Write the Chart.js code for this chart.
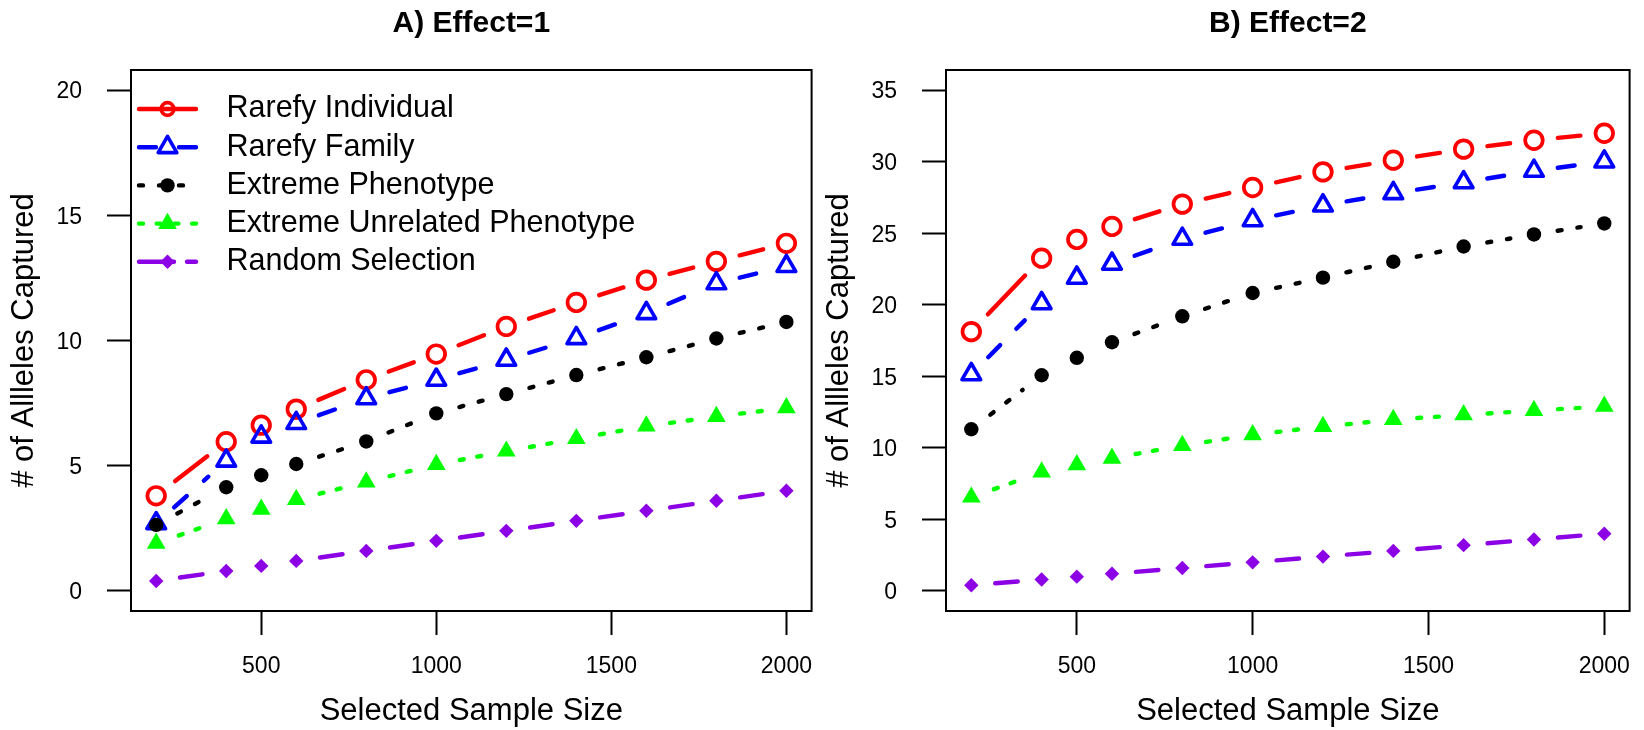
<!DOCTYPE html>
<html>
<head>
<meta charset="utf-8">
<script src="https://cdn.jsdelivr.net/npm/chart.js@4/dist/chart.umd.min.js"></script>
<style>
  body { margin: 0; background: #fff; width: 1644px; height: 730px; position: relative; overflow: hidden; }
  .panel { position: absolute; top: 0; }
</style>
</head>
<body>
<div class="panel" style="left:0"><canvas id="chartA" width="826" height="730"></canvas></div>
<div class="panel" style="left:815px"><canvas id="chartB" width="829" height="730"></canvas></div>
<script>
// sample sizes on the x axis
const sampleSizes = [200, 400, 500, 600, 800, 1000, 1200, 1400, 1600, 1800, 2000];

// A) Effect=1
const e1Individual = [3.80, 5.96, 6.62, 7.26, 8.43, 9.46, 10.56, 11.52, 12.41, 13.16, 13.88];
const e1Family     = [2.70, 5.20, 6.16, 6.70, 7.69, 8.43, 9.23, 10.09, 11.09, 12.28, 12.97];
const e1Extreme    = [2.64, 4.14, 4.62, 5.07, 5.97, 7.09, 7.86, 8.62, 9.33, 10.08, 10.74];
const e1Unrelated  = [1.90, 2.88, 3.26, 3.65, 4.35, 5.05, 5.58, 6.08, 6.58, 6.96, 7.31];
const e1Random     = [0.4, 0.8, 1.0, 1.2, 1.6, 2.0, 2.4, 2.8, 3.2, 3.6, 4.0];

// B) Effect=2
const e2Individual = [18.12, 23.25, 24.56, 25.47, 27.03, 28.19, 29.28, 30.10, 30.87, 31.49, 31.98];
const e2Family     = [15.14, 20.10, 21.88, 22.86, 24.60, 25.90, 26.93, 27.79, 28.55, 29.35, 30.00];
const e2Extreme    = [11.30, 15.07, 16.29, 17.38, 19.19, 20.82, 21.89, 23.00, 24.07, 24.91, 25.68];
const e2Unrelated  = [6.55, 8.30, 8.81, 9.27, 10.16, 10.91, 11.48, 11.97, 12.30, 12.60, 12.90];
const e2Random     = [0.4, 0.8, 1.0, 1.2, 1.6, 2.0, 2.4, 2.8, 3.2, 3.6, 4.0];

const seriesNames = ["Rarefy Individual", "Rarefy Family", "Extreme Phenotype",
                     "Extreme Unrelated Phenotype", "Random Selection"];

const xTicks  = [500, 1000, 1500, 2000];
const yTicksA = [0, 5, 10, 15, 20];
const yTicksB = [0, 5, 10, 15, 20, 25, 30, 35];

const FONT = "'Liberation Sans', Arial, sans-serif";

// look of each series (R style: type="b")
const styles = [
  { color: "#FF0000", dash: [],        style: "circle",   radius: 8.8,  border: 3.7, filled: false, legendRadius: 6.3 },
  { color: "#0000FF", dash: [17, 23],  style: "triangle", radius: 10.8, border: 3.6, filled: false },
  { color: "#000000", dash: [4, 16],   style: "circle",   radius: 7.2,  border: 0,   filled: true },
  { color: "#00FF00", dash: [4, 13.7], style: "triangle", radius: 10.8, border: 0,   filled: true },
  { color: "#8C00E6", dash: [35, 13],  style: "rectRot",  radius: 7.2,  border: 0,   filled: true }
];

const GAP = 24;        // gap left around each point by the connecting lines
const LINE_W = 4.4;

// connecting segments with gaps around the points, drawn under each dataset's points
const gapLines = {
  id: "gapLines",
  beforeDatasetDraw(chart, args) {
    const ds = chart.data.datasets[args.index];
    const pts = args.meta.data;
    const ctx = chart.ctx;
    ctx.save();
    ctx.strokeStyle = ds.lineColor;
    ctx.lineWidth = LINE_W;
    ctx.lineCap = "round";
    ctx.setLineDash(ds.lineDash);
    for (let i = 0; i < pts.length - 1; i++) {
      const a = pts[i], b = pts[i + 1];
      const dx = b.x - a.x, dy = b.y - a.y, d = Math.hypot(dx, dy);
      if (d <= 2 * GAP) continue;
      const ux = dx / d, uy = dy / d;
      ctx.beginPath();
      ctx.moveTo(a.x + ux * GAP, a.y + uy * GAP);
      ctx.lineTo(b.x - ux * GAP, b.y - uy * GAP);
      ctx.stroke();
    }
    ctx.restore();
    ctx.lineJoin = "round";
  }
};

// full box around the plot region
const frameBox = {
  id: "frameBox",
  beforeDatasetsDraw(chart) {
    const { left, top, right, bottom } = chart.chartArea;
    const ctx = chart.ctx;
    ctx.save();
    ctx.lineWidth = 2;
    ctx.strokeStyle = "#000";
    ctx.strokeRect(left, top, right - left, bottom - top);
    ctx.restore();
  }
};

// legend inside the top-left corner of the plot
const insetLegend = {
  id: "insetLegend",
  afterDatasetsDraw(chart) {
    const ctx = chart.ctx;
    const x0 = 139, x1 = 196, xm = 167.5, xt = 226.5, y0 = 109, step = 38.2;
    chart.data.datasets.forEach((ds, i) => {
      const y = y0 + i * step;
      ctx.save();
      ctx.strokeStyle = ds.lineColor;
      ctx.lineWidth = LINE_W;
      ctx.lineCap = "round";
      ctx.setLineDash(ds.lineDash);
      ctx.beginPath();
      ctx.moveTo(x0, y);
      ctx.lineTo(x1, y);
      ctx.stroke();
      ctx.setLineDash([]);
      ctx.lineJoin = "round";
      ctx.fillStyle = ds.pointBackgroundColor;
      ctx.strokeStyle = ds.pointBorderColor;
      ctx.lineWidth = ds.pointBorderWidth;
      Chart.helpers.drawPoint(ctx, {
        pointStyle: ds.pointStyle,
        radius: ds.legendRadius || ds.pointRadius,
        borderWidth: ds.pointBorderWidth,
        rotation: 0
      }, xm, y);
      ctx.fillStyle = "#000";
      ctx.font = "30.5px " + FONT;
      ctx.textBaseline = "middle";
      ctx.textAlign = "left";
      ctx.fillText(ds.label, xt, y);
      ctx.restore();
    });
  }
};

function makeDatasets(seriesValues) {
  return seriesValues.map((vals, i) => {
    const s = styles[i];
    return {
      label: seriesNames[i],
      data: sampleSizes.map((x, j) => ({ x: x, y: vals[j] })),
      showLine: false,
      pointStyle: s.style,
      pointRadius: s.radius,
      pointHoverRadius: s.radius,
      legendRadius: s.legendRadius,
      pointBorderWidth: s.border,
      pointBorderColor: s.color,
      pointBackgroundColor: s.filled ? s.color : "rgba(0,0,0,0)",
      lineColor: s.color,
      lineDash: s.dash,
      order: seriesValues.length - i
    };
  });
}

function makeOptions(title, yTicks, padRight) {
  const xMin = sampleSizes[0], xMax = sampleSizes[sampleSizes.length - 1];
  const xExt = (xMax - xMin) * 0.04;
  const yMin = yTicks[0], yMax = yTicks[yTicks.length - 1];
  const yExt = (yMax - yMin) * 0.04;
  return {
    responsive: false,
    animation: false,
    devicePixelRatio: 1,
    events: [],
    layout: { padding: { left: 0, right: padRight, top: 0, bottom: 0 } },
    plugins: {
      legend: { display: false },
      tooltip: { enabled: false },
      title: {
        display: true,
        text: title,
        fullSize: false,
        color: "#000",
        font: { family: FONT, size: 30, weight: "bold", lineHeight: 1.2 },
        padding: { top: 6, bottom: 28 }
      }
    },
    scales: {
      x: {
        type: "linear",
        min: xMin - xExt,
        max: xMax + xExt,
        afterBuildTicks: (s) => { s.ticks = xTicks.map(v => ({ value: v })); },
        afterFit: (s) => { s.height = 119; s.paddingLeft = 0; s.paddingRight = 0; },
        ticks: {
          color: "#000",
          font: { family: FONT, size: 23 },
          padding: 18,
          maxRotation: 0,
          autoSkip: false,
          callback: (v) => String(v)
        },
        grid: { drawOnChartArea: false, drawTicks: true, tickLength: 24, tickWidth: 2, tickColor: "#000" },
        border: { display: false },
        title: {
          display: true,
          text: "Selected Sample Size",
          color: "#000",
          font: { family: FONT, size: 31, lineHeight: 1.2 },
          padding: { top: 0, bottom: 0 }
        }
      },
      y: {
        type: "linear",
        min: yMin - yExt,
        max: yMax + yExt,
        afterBuildTicks: (s) => { s.ticks = yTicks.map(v => ({ value: v })); },
        afterFit: (s) => { s.width = 131; s.paddingTop = 0; s.paddingBottom = 0; },
        ticks: {
          color: "#000",
          font: { family: FONT, size: 23 },
          padding: 25,
          labelOffset: 2,
          autoSkip: false,
          callback: (v) => String(v)
        },
        grid: { drawOnChartArea: false, drawTicks: true, tickLength: 24, tickWidth: 2, tickColor: "#000" },
        border: { display: false },
        title: {
          display: true,
          text: "# of Allleles Captured",
          color: "#000",
          font: { family: FONT, size: 31, lineHeight: 1.2 },
          padding: { top: 6, bottom: 0 }
        }
      }
    }
  };
}

new Chart(document.getElementById("chartA").getContext("2d"), {
  type: "scatter",
  data: { datasets: makeDatasets([e1Individual, e1Family, e1Extreme, e1Unrelated, e1Random]) },
  options: makeOptions("A) Effect=1", yTicksA, 4),
  plugins: [frameBox, gapLines, insetLegend]
});

new Chart(document.getElementById("chartB").getContext("2d"), {
  type: "scatter",
  data: { datasets: makeDatasets([e2Individual, e2Family, e2Extreme, e2Unrelated, e2Random]) },
  options: makeOptions("B) Effect=2", yTicksB, 1),
  plugins: [frameBox, gapLines]
});
</script>
</body>
</html>
